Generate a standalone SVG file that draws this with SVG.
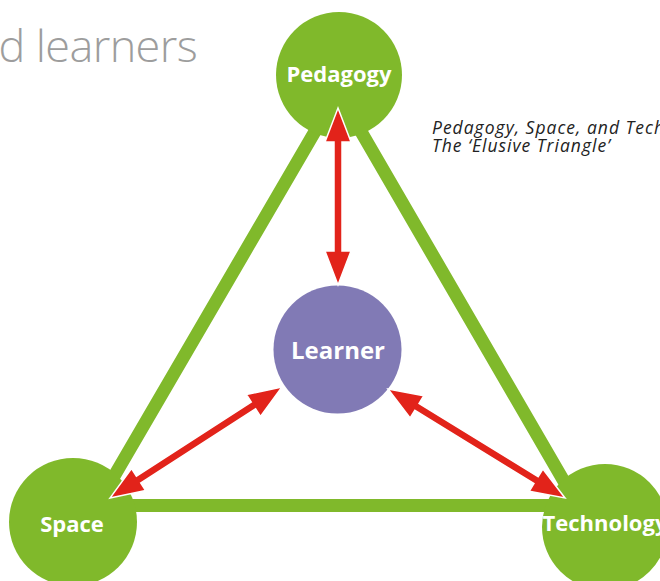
<svg xmlns="http://www.w3.org/2000/svg" width="660" height="581" viewBox="0 0 660 581">
<style>
.node{fill:#80b92b}
.lbl{font-family:"Open Sans","Liberation Sans",sans-serif;font-weight:700;fill:#ffffff;text-anchor:middle}
.arrow{fill:#e2231a;stroke:#ffffff;stroke-width:1.5;stroke-linejoin:miter}
.cap{font-family:"Open Sans","Liberation Sans",sans-serif;font-style:italic;font-size:17.5px;letter-spacing:1px;fill:#222222}
</style>
<rect width="660" height="581" fill="#ffffff"/>
<text x="197" y="62" font-family="'Open Sans','Liberation Sans',sans-serif" font-weight="300" font-size="45" letter-spacing="-0.6" fill="#9d9d9d" text-anchor="end">nd learners</text>
<g id="caption">
<text class="cap" x="432" y="134">Pedagogy, Space, and Technology:</text>
<text class="cap" x="432" y="152">The ‘Elusive Triangle’</text>
</g>
<g id="triangle">
<polygon points="97,505.5 578,505.5 338,92" fill="none" stroke="#80b92b" stroke-width="13" stroke-linejoin="miter"/>
</g>
<g id="pedagogy">
<circle class="node" cx="339" cy="75" r="63"/>
<text class="lbl" x="339" y="82" font-size="22">Pedagogy</text>
</g>
<g id="space">
<circle class="node" cx="73" cy="522" r="64"/>
<text class="lbl" x="72" y="532" font-size="22">Space</text>
</g>
<g id="technology">
<circle class="node" cx="605" cy="527" r="63"/>
<text class="lbl" x="605" y="531" font-size="22">Technology</text>
</g>
<g id="learner">
<circle cx="337.5" cy="349.5" r="64" fill="#817ab5"/>
<text class="lbl" x="338" y="359" font-size="24">Learner</text>
</g>
<g id="connectors">
<polygon class="arrow" points="338,108 351,142 342,142 342,251 351,251 338,285 325,251 334,251 334,142 325,142"/>
<polygon class="arrow" points="110,498 145.62,490.48 140.74,482.92 255.6,408.8 260.48,416.36 282,387 246.38,394.52 251.26,402.08 136.4,476.2 131.52,468.64"/>
<polygon class="arrow" points="388,389 410.13,417.9 414.85,410.24 533.95,483.58 529.23,491.24 565,498 542.87,469.1 538.15,476.76 419.05,403.42 423.77,395.76"/>
</g>
</svg>
